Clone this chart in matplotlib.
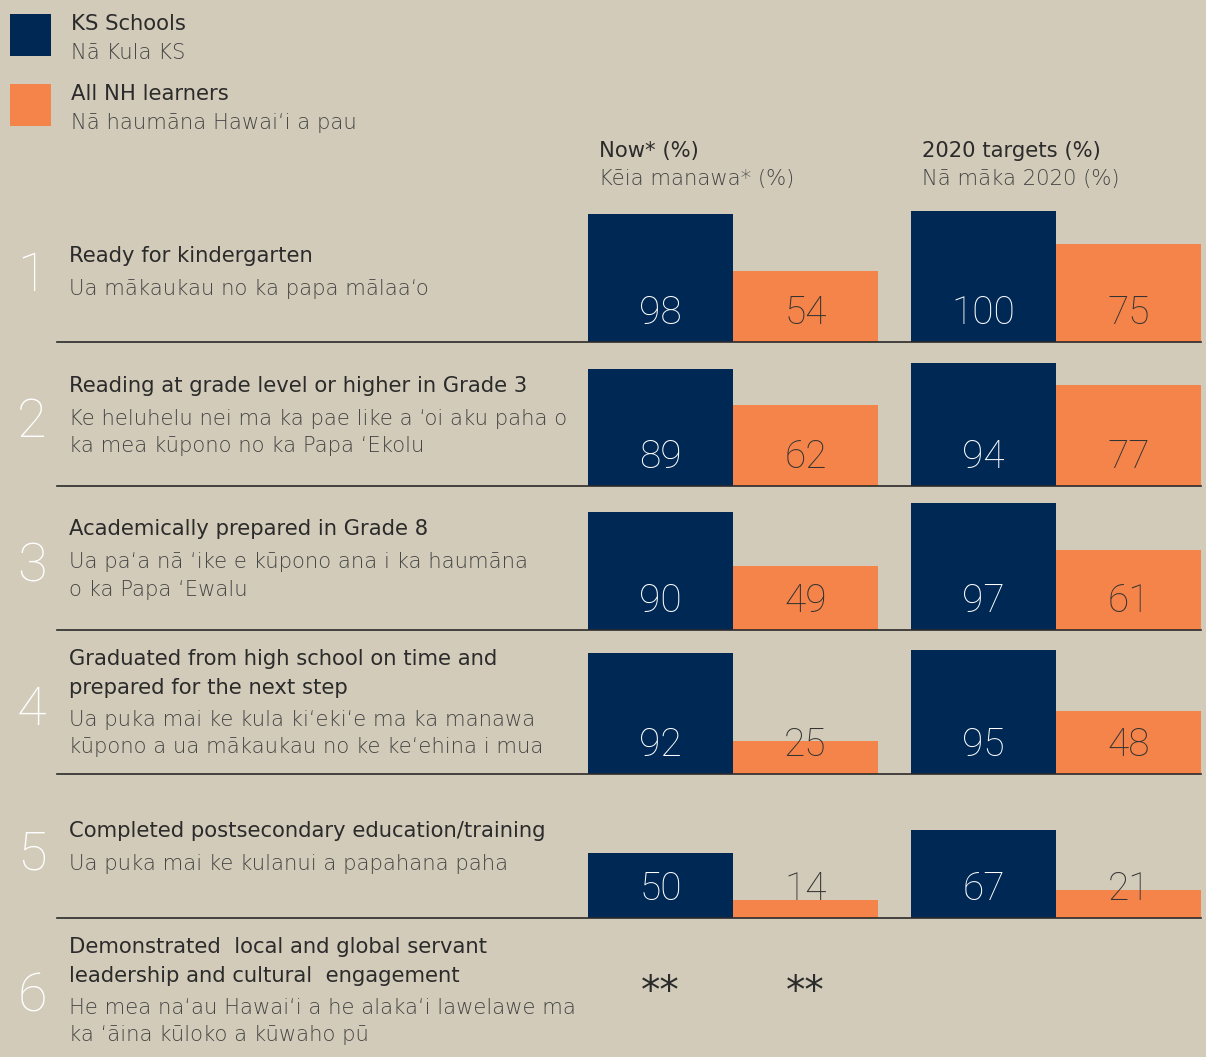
import matplotlib
matplotlib.use("Agg")
import matplotlib.pyplot as plt
from matplotlib.patches import Rectangle
from matplotlib.lines import Line2D

# ---------------- data ----------------
series_names = ["KS Schools", "All NH learners"]
series_names_haw = ["Nā Kula KS", "Nā haumāna Hawai‘i a pau"]
group_titles = ["Now* (%)", "2020 targets (%)"]
group_titles_haw = ["Kēia manawa* (%)", "Nā māka 2020 (%)"]

ks_now = [98, 89, 90, 92, 50]
nh_now = [54, 62, 49, 25, 14]
ks_target = [100, 94, 97, 95, 67]
nh_target = [75, 77, 61, 48, 21]

row_titles = [
    ["Ready for kindergarten"],
    ["Reading at grade level or higher in Grade 3"],
    ["Academically prepared in Grade 8"],
    ["Graduated from high school on time and", "prepared for the next step"],
    ["Completed postsecondary education/training"],
    ["Demonstrated  local and global servant", "leadership and cultural  engagement"],
]
row_subtitles = [
    ["Ua mākaukau no ka papa mālaa‘o"],
    ["Ke heluhelu nei ma ka pae like a ‘oi aku paha o", "ka mea kūpono no ka Papa ‘Ekolu"],
    ["Ua pa‘a nā ‘ike e kūpono ana i ka haumāna", "o ka Papa ‘Ewalu"],
    ["Ua puka mai ke kula ki‘eki‘e ma ka manawa", "kūpono a ua mākaukau no ke ke‘ehina i mua"],
    ["Ua puka mai ke kulanui a papahana paha"],
    ["He mea na‘au Hawai‘i a he alaka‘i lawelawe ma", "ka ‘āina kūloko a kūwaho pū"],
]
missing_label = "**"

# ---------------- style / layout ----------------
W, H = 1206, 1057
BG = "#d2cbb9"
NAVY = "#002855"
ORANGE = "#f5844a"
DARK = "#2b2b2b"
GREY = "#444444"
TEXT_FONT = ["DejaVu Sans"]
NUM_FONT = ["Roboto", "DejaVu Sans"]
TS = 15.2

plt.rcParams["font.family"] = TEXT_FONT

def fx(px):
    return px / W

def fy(px):
    return 1 - px / H

fig = plt.figure(figsize=(W / 100, H / 100), dpi=100)
fig.patch.set_facecolor(BG)

# legend
for i, (name, hname, col) in enumerate(zip(series_names, series_names_haw, [NAVY, ORANGE])):
    top = 14 + 70 * i
    fig.add_artist(Rectangle((fx(10), fy(top + 42)), fx(41), 42 / H,
                             transform=fig.transFigure, color=col, lw=0))
    fig.text(fx(71), fy(top + 16), name, fontsize=TS, color=DARK, va="baseline")
    fig.text(fx(71), fy(top + 45), hname, fontsize=TS, color=GREY, va="baseline",
             fontweight="light")

# group headers
for gx, t, th in zip([599, 922], group_titles, group_titles_haw):
    fig.text(fx(gx), fy(157), t, fontsize=TS, color=DARK, va="baseline")
    fig.text(fx(gx), fy(185), th, fontsize=TS, color=GREY, va="baseline",
             fontweight="light")

# rows
baselines = [342, 486, 630, 774, 918, 1062]
title_base = [[262], [392], [535], [665, 694], [837], [953, 982]]
sub_base = [[295], [425, 452], [568, 596], [726, 753], [870], [1014, 1041]]
num_base = [291, 437, 581, 725, 869, 1011]

for i in range(6):
    fig.text(fx(32), fy(num_base[i]), str(i + 1), fontsize=39, color="white",
             ha="center", va="baseline", fontweight="ultralight", family=NUM_FONT)
    for t, yb in zip(row_titles[i], title_base[i]):
        fig.text(fx(69), fy(yb), t, fontsize=TS, color=DARK, va="baseline")
    for t, yb in zip(row_subtitles[i], sub_base[i]):
        fig.text(fx(69), fy(yb), t, fontsize=TS, color=GREY, va="baseline",
                 fontweight="light")

xs = [660.5, 805.5, 983.5, 1128.5]
cols = [NAVY, ORANGE, NAVY, ORANGE]
txt_cols = ["white", "#333333", "white", "#333333"]
SCALE = 1.31  # px per percentage point

for i in range(5):
    b = baselines[i]
    ax = fig.add_axes([fx(588), fy(b), fx(1201 - 588), 144 / H])
    ax.set_xlim(588, 1201)
    ax.set_ylim(0, 144 / SCALE)
    ax.set_axis_off()
    vals = [ks_now[i], nh_now[i], ks_target[i], nh_target[i]]
    ax.bar(xs, vals, width=145, color=cols, lw=0)
    for x, v, c in zip(xs, vals, txt_cols):
        ax.text(x, 18 / SCALE, str(v), ha="center", va="baseline", fontsize=28,
                color=c, fontweight="light", family=NUM_FONT)
    fig.add_artist(Line2D([fx(57), fx(1201)], [fy(b), fy(b)], transform=fig.transFigure,
                          color=DARK, lw=1.2, zorder=5))

# row 6: no data
for x in xs[:2]:
    fig.text(fx(x), fy(1003), missing_label, ha="center", va="baseline", fontsize=28,
             color=DARK)

fig.savefig("out.png", dpi=100, facecolor=BG)
